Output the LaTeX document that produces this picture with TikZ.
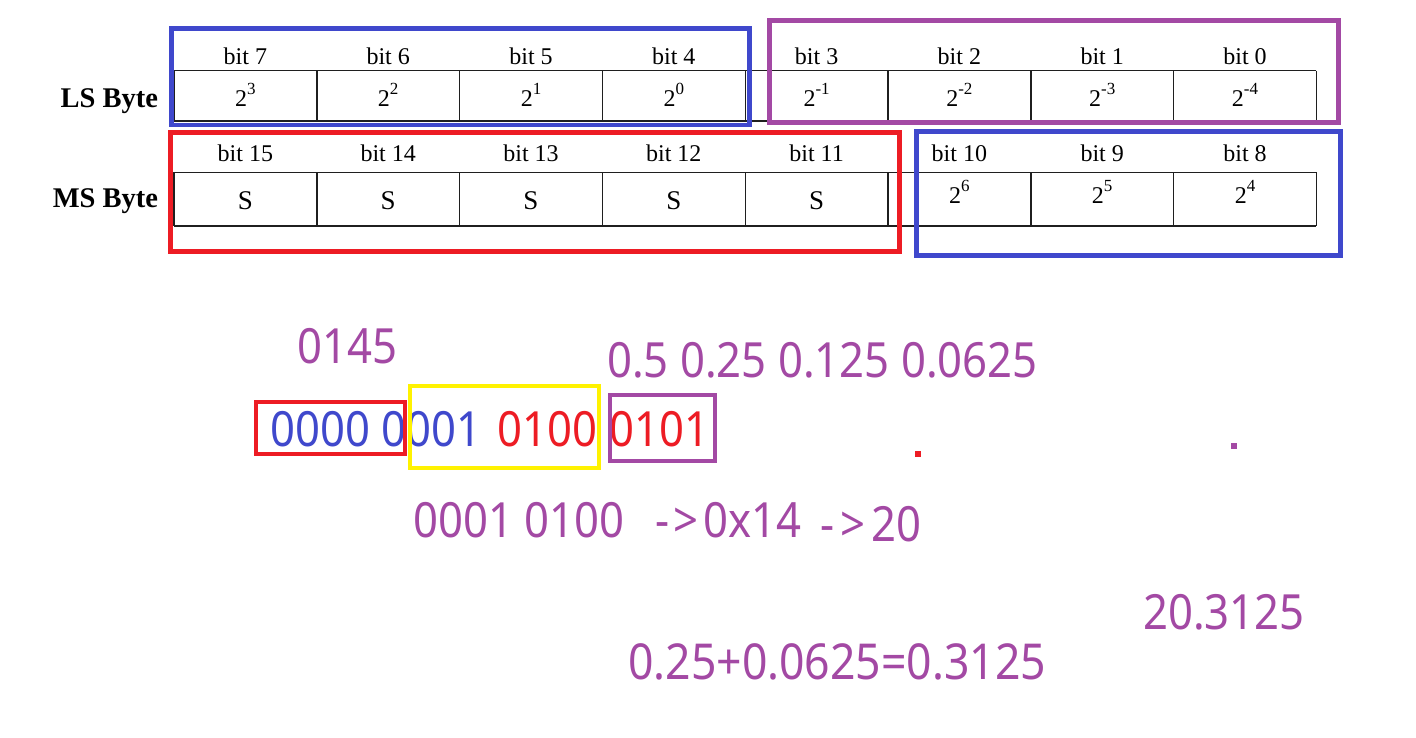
\documentclass[tikz,border=0pt]{standalone}
\usepackage{fontspec}
\newfontfamily\yh[FakeStretch=0.9]{Noto Sans}
\newfontfamily\tnr{Liberation Serif}
\definecolor{ppl}{HTML}{A349A4}
\definecolor{blu}{HTML}{3F48CC}
\definecolor{rd}{HTML}{ED1C24}
\definecolor{yl}{HTML}{FFF200}
\tikzset{
  grid/.style={draw=black!88, line width=1.4pt},
  hl/.style={line width=4.8pt},
  hlb/.style={line width=4pt},
  bitlbl/.style={font=\tnr\fontsize{24}{26}\selectfont, anchor=base, inner sep=0pt},
  val/.style={font=\tnr\fontsize{24}{26}\selectfont, anchor=base, inner sep=0pt},
  sval/.style={font=\tnr\fontsize{27}{29}\selectfont, anchor=base, inner sep=0pt},
  rowlbl/.style={font=\tnr\bfseries\fontsize{28.5}{30}\selectfont, anchor=base east, inner sep=0pt},
  note/.style={font=\yh\fontsize{48.5}{50}\selectfont, anchor=base west, inner sep=0pt, text=ppl}
}
\newcommand\pw[1]{2\raisebox{12pt}{\fontsize{17}{17}\selectfont #1}}
\begin{document}
\begin{tikzpicture}[x=1pt,y=-1pt]
\useasboundingbox[fill=white] (0,0) rectangle (1416,737);
% ---- table grid
\draw[grid] (174,70.5) -- (1316.4,70.5);
\draw[grid] (174,121) -- (1316.4,121);
\draw[grid] (174,172.3) -- (1316.4,172.3);
\draw[grid] (174,226) -- (1316.4,226);
\foreach \k in {0,...,8} {
  \draw[grid] ({174+142.8*\k},70.5) -- ({174+142.8*\k},121);
  \draw[grid] ({174+142.8*\k},172.3) -- ({174+142.8*\k},226);
}
% ---- row labels
\node[rowlbl] (lsbyte) at (158.3,107.3) {LS Byte};
\node[rowlbl] (msbyte) at (158.3,207) {MS Byte};
% ---- cells
\foreach \k in {0,...,7} {
  \pgfmathsetmacro\cx{245.4+142.8*\k}
  \node[bitlbl] (lsb\k) at (\cx,64.5) {bit \the\numexpr7-\k\relax};
  \node[val] (lsv\k) at (\cx,106.3) {\pw{\the\numexpr3-\k\relax}};
  \node[bitlbl] (msb\k) at (\cx,161) {bit \the\numexpr15-\k\relax};
  \ifnum\k<5
    \node[sval] (msv\k) at (\cx,209) {S};
  \else
    \node[val] (msv\k) at (\cx,203.5) {\pw{\the\numexpr11-\k\relax}};
  \fi
}
% ---- highlight boxes on table
\draw[hl, draw=blu] (171.8,28.8) rectangle (749.2,125);
\draw[hl, draw=ppl] (769.8,20.8) rectangle (1338.2,122.5);
\draw[hl, draw=rd] (170.7,132.5) rectangle (899.2,251.5);
\draw[hl, draw=blu] (916.8,131.5) rectangle (1340.5,255.5);
% ---- notes
\node[note] (n0145) at (297,363) {0145};
\node[note] (nfrac) at (607,377.7) {0.5 0.25 0.125 0.0625};
\node[note, text=blu] (nbinhi) at (270.5,446.7) {0000 0001};
\node[note, text=rd] (nbinmid) at (497,446.7) {0100};
\node[note, text=rd] (nbinlo) at (609.5,446.7) {0101};
\node[note] (nhexa) at (413,537) {0001 0100};
\node[note] (nhexb) at (655,537) {-\kern4pt>\kern5pt0x14};
\node[note] (n20) at (820,541.5) {-\kern6pt>\kern6pt20};
\node[note] (nres) at (1143,629.5) {20.3125};
\node[note, font=\yh\fontsize{49.5}{51}\selectfont] (nsum) at (628,679.5) {0.25+0.0625=0.3125};
% ---- dots
\fill[rd] (915,451) rectangle (921,456.7);
\fill[ppl] (1231,442.7) rectangle (1237,448.7);
% ---- boxes round the binary number
\draw[hlb, draw=rd] (256,402) rectangle (404.7,454);
\draw[hlb, draw=yl] (409.7,386) rectangle (598.7,468);
\draw[hlb, draw=ppl] (610,394.7) rectangle (715,461);
\end{tikzpicture}
\end{document}
